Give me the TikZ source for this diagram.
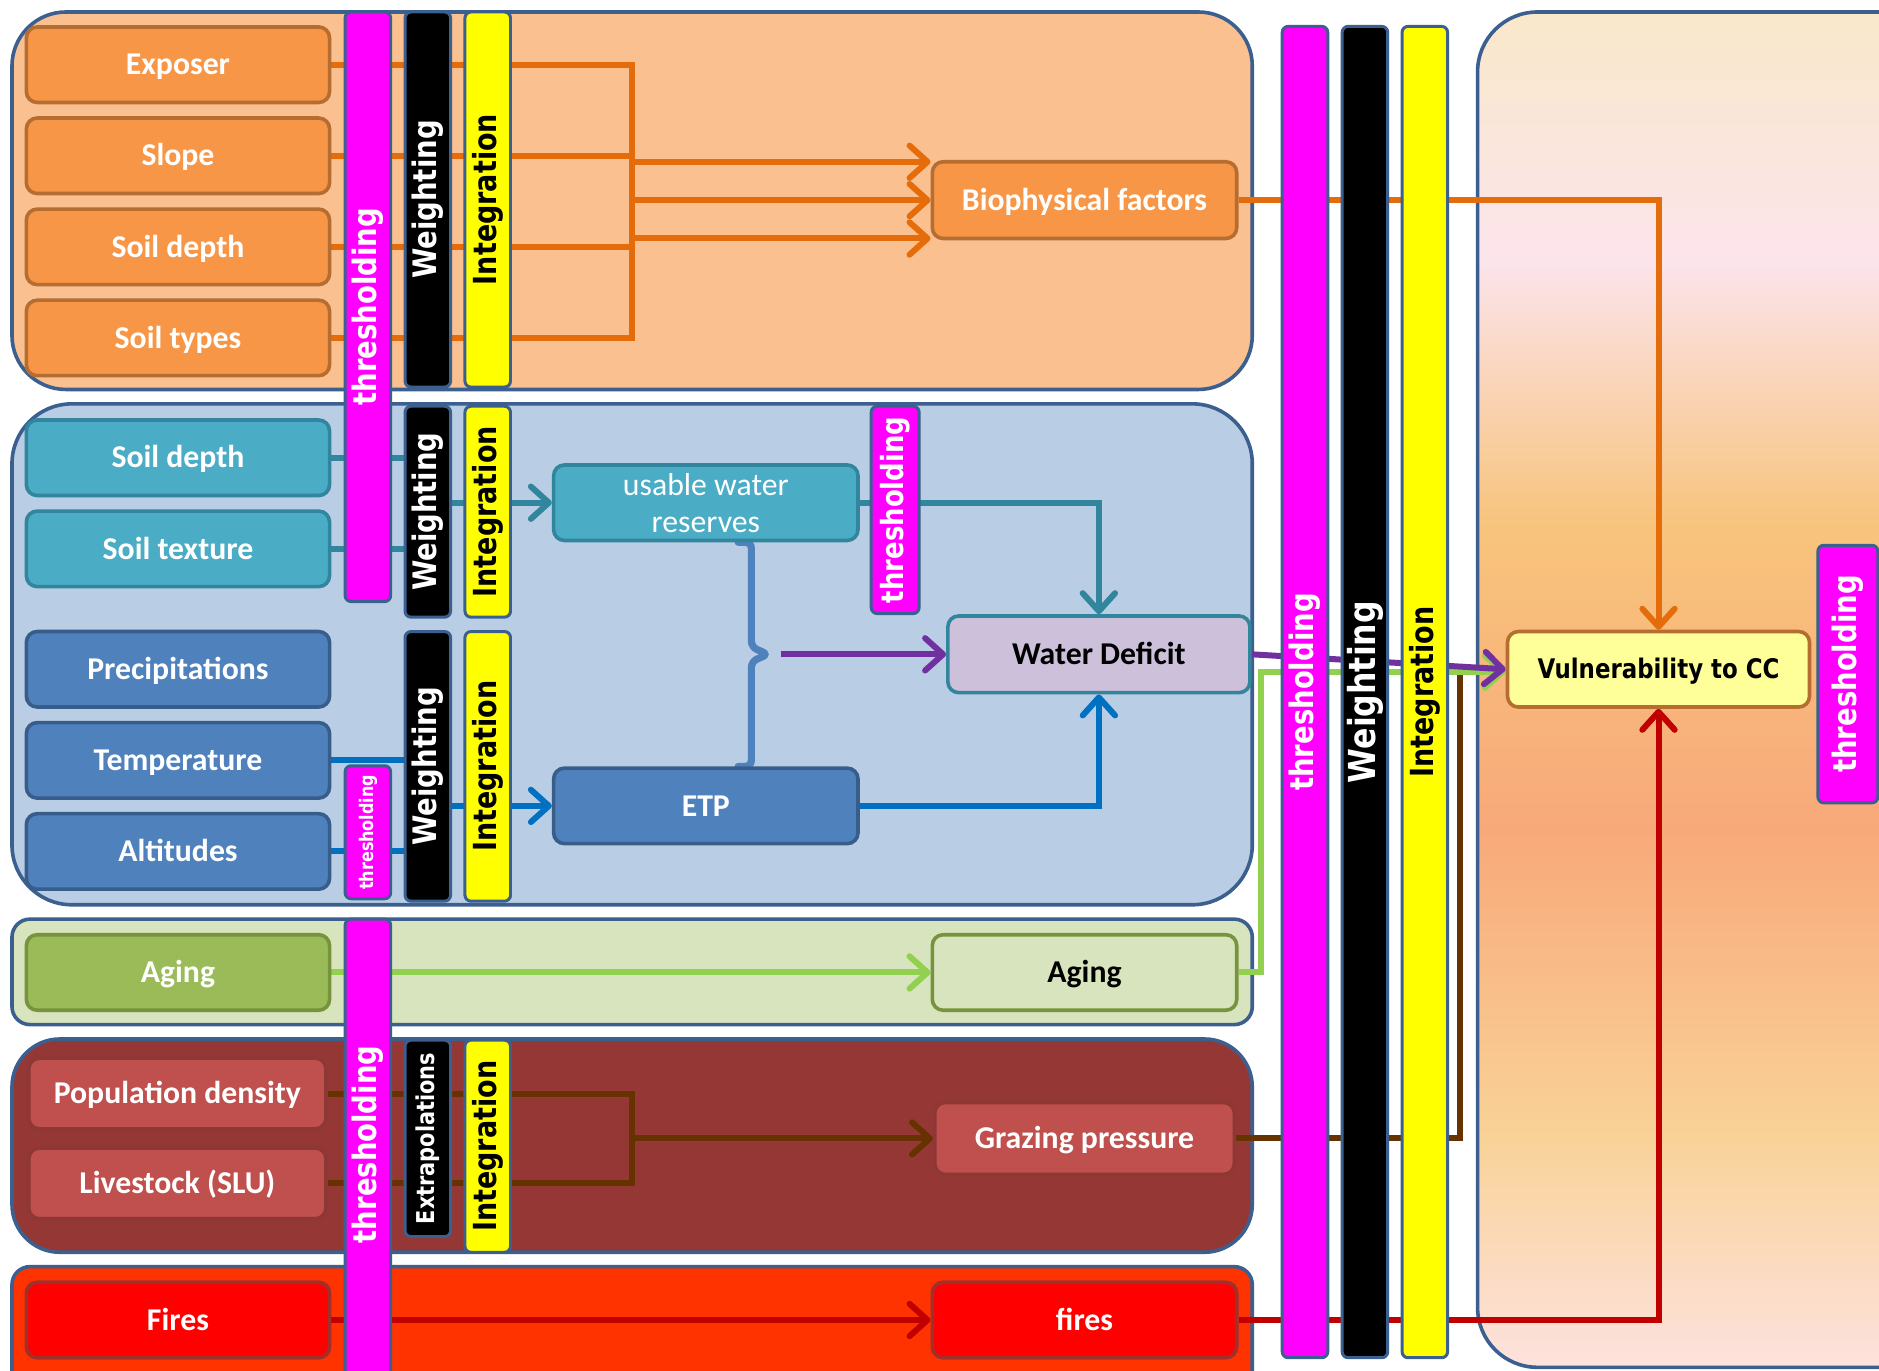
\documentclass[tikz,border=0pt]{standalone}
\usepackage{fontspec}
\setmainfont{Carlito}
\newfontfamily\barfont[FakeStretch=0.85]{DejaVu Sans}
\usetikzlibrary{arrows.meta,calc}
\definecolor{grpb}{HTML}{3B5F8F}
\definecolor{g1f}{HTML}{FAC090}
\definecolor{g2f}{HTML}{B9CDE5}
\definecolor{g3f}{HTML}{D7E4BD}
\definecolor{g4f}{HTML}{953735}
\definecolor{g5f}{HTML}{FF3300}
\definecolor{oboxf}{HTML}{F79646}
\definecolor{oboxd}{HTML}{B66D31}
\definecolor{olin}{HTML}{E46C0A}
\definecolor{tboxf}{HTML}{4BACC6}
\definecolor{tboxd}{HTML}{31859C}
\definecolor{dboxf}{HTML}{4F81BD}
\definecolor{dboxd}{HTML}{385D8A}
\definecolor{blin}{HTML}{0070C0}
\definecolor{wdf}{HTML}{CCC0DA}
\definecolor{agf}{HTML}{9BBB59}
\definecolor{agd}{HTML}{77933C}
\definecolor{glin}{HTML}{92D050}
\definecolor{rboxf}{HTML}{C0504D}
\definecolor{rboxd}{HTML}{8E3836}
\definecolor{brlin}{HTML}{663300}
\definecolor{fboxd}{HTML}{A0302C}
\definecolor{rlin}{HTML}{C00000}
\definecolor{plin}{HTML}{7030A0}
\definecolor{vulf}{HTML}{FFFF99}
\definecolor{magb}{HTML}{FF00FF}
\definecolor{yelb}{HTML}{FFFF00}
\definecolor{gr0}{HTML}{F9E8CA}
\definecolor{gr1}{HTML}{FCE4EC}
\definecolor{gr2}{HTML}{F9D3B4}
\definecolor{gr3}{HTML}{F8C47C}
\definecolor{gr4}{HTML}{F8A97A}
\definecolor{gr5}{HTML}{F9D298}
\definecolor{gr6}{HTML}{FDE2DF}
\pgfdeclarelayer{bg}
\pgfdeclarelayer{lines}
\pgfsetlayers{bg,lines,main}
\tikzset{
  grp/.style={draw=grpb, line width=3pt},
  bx/.style={draw, line width=3pt, rounded corners=9pt, minimum width=253pt, minimum height=63pt,
    inner sep=0pt, text height=20pt, text depth=3pt,
    font=\fontsize{26.5}{31}\selectfont\bfseries, text=white},
  obox/.style={bx, fill=oboxf, draw=oboxd},
  tbox/.style={bx, fill=tboxf, draw=tboxd},
  dbox/.style={bx, fill=dboxf, draw=dboxd},
  gbox/.style={bx, fill=agf, draw=agd},
  rbox/.style={bx, fill=rboxf, draw=rboxd},
  fbox/.style={bx, fill=red, draw=fboxd},
  bar/.style={draw=grpb, line width=2.5pt, rounded corners=5pt, minimum width=38pt, inner sep=0pt},
  bartxt/.style={rotate=90, inner sep=0pt, font=\barfont\bfseries\fontsize{#1}{#1}\selectfont},
  bartxt/.default=27,
  ln/.style={line width=5pt},
  arr/.style={-{Straight Barb[length=15pt,width=27pt,round]}}
}
\begin{document}
\begin{tikzpicture}[x=1pt,y=-1pt]
\useasboundingbox (0,0) rectangle (1568,1144);

\begin{pgfonlayer}{bg}
\fill[white] (0,0) rectangle (1568,1144);
\draw[grp, fill=g1f, rounded corners=45pt] (10,10) rectangle (1045,325);
\draw[grp, fill=g2f, rounded corners=50pt] (10,337) rectangle (1045,755);
\draw[grp, fill=g3f, rounded corners=15pt] (10,767) rectangle (1045,855);
\draw[grp, fill=g4f, rounded corners=40pt] (10,867) rectangle (1045,1045);
\draw[grp, fill=g5f, rounded corners=15pt] (10,1057) rectangle (1045,1180);
\begin{scope}
\clip[rounded corners=50pt] (1233,10) rectangle (1640,1141);
\shade[top color=gr0, bottom color=gr1] (1233,8) rectangle (1640,219);
\shade[top color=gr1, bottom color=gr2] (1233,219) rectangle (1640,328);
\shade[top color=gr2, bottom color=gr3] (1233,328) rectangle (1640,440);
\shade[top color=gr3, bottom color=gr4] (1233,440) rectangle (1640,693);
\shade[top color=gr4, bottom color=gr5] (1233,693) rectangle (1640,948);
\shade[top color=gr5, bottom color=gr6] (1233,948) rectangle (1640,1143);
\end{scope}
\draw[grp, rounded corners=50pt] (1233,10) rectangle (1640,1141);
\end{pgfonlayer}

% left input boxes
\node[obox] (ex) at (148.5,54) {Exposer};
\node[obox] (sl) at (148.5,130) {Slope};
\node[obox] (sd) at (148.5,206) {Soil depth};
\node[obox] (st) at (148.5,282) {Soil types};
\node[tbox] (sd2) at (148.5,382) {Soil depth};
\node[tbox] (tx) at (148.5,458) {Soil texture};
\node[dbox] (pr) at (148.5,558.5) {Precipitations};
\node[dbox] (tp) at (148.5,634.5) {Temperature};
\node[dbox] (al) at (148.5,710.5) {Altitudes};
\node[gbox] (ag1) at (148.5,811.5) {Aging};
\node[rbox, minimum width=248pt, minimum height=59pt] (pd) at (148,912.5) {Population density};
\node[rbox, minimum width=248pt, minimum height=59pt] (ls) at (148,987.5) {Livestock (SLU)};
\node[fbox] (fr1) at (148.5,1101.5) {Fires};

% intermediate boxes
\node[obox, minimum width=254pt, minimum height=64pt] (bio) at (905,167) {Biophysical factors};
\node[tbox, minimum width=254pt, align=center, text height=, text depth=,
  font=\fontsize{26.5}{31}\selectfont\mdseries] (uw) at (589,419.5) {usable water\\reserves};
\node[dbox, minimum width=254pt] (etp) at (589,672.5) {ETP};
\node[bx, fill=wdf, draw=tboxd, text=black, minimum width=252pt, minimum height=64pt] (wd) at (917,546) {Water Deficit};
\node[bx, fill=g3f, draw=agd, text=black, minimum width=254pt] (ag2) at (905,811.5) {Aging};
\node[rbox, minimum width=250pt, minimum height=60pt] (gp) at (905,950) {Grazing pressure};
\node[fbox, minimum width=254pt] (fr2) at (905,1101.5) {fires};
\node[bx, fill=vulf, draw=oboxd, text=black, minimum width=252pt, text height=20pt, text depth=4pt,
  font=\barfont\bfseries\fontsize{22.5}{24}\selectfont] (vul) at (1384,558.5) {Vulnerability to CC};

% processing bars
\node[bar, fill=magb, minimum height=492pt] (m1) at (307,256) {};
\node[bartxt, text=white] (m1t) at (m1) {thresholding};
\node[bar, fill=black, minimum height=313pt] (k1) at (357,166.5) {};
\node[bartxt, text=white] (k1t) at (k1) {Weighting};
\node[bar, fill=yelb, minimum height=313pt] (y1) at (407,166.5) {};
\node[bartxt=26.5, text=black] (y1t) at (y1) {Integration};

\node[bar, fill=black, minimum height=176pt] (k2) at (357,427) {};
\node[bartxt, text=white] (k2t) at (k2) {Weighting};
\node[bar, fill=yelb, minimum height=176pt] (y2) at (407,427) {};
\node[bartxt=26.5, text=black] (y2t) at (y2) {Integration};
\node[bar, fill=magb, minimum width=40pt, minimum height=173pt] (m2) at (747,425.5) {};
\node[bartxt=25.5, text=white] (m2t) at (m2) {thresholding};

\node[bar, fill=black, minimum height=225pt] (k3) at (357,639.5) {};
\node[bartxt, text=white] (k3t) at (k3) {Weighting};
\node[bar, fill=yelb, minimum height=225pt] (y3) at (407,639.5) {};
\node[bartxt=26.5, text=black] (y3t) at (y3) {Integration};
\node[bar, fill=magb, minimum height=111pt] (m3) at (307,694.5) {};
\node[bartxt=15.7, text=white] (m3t) at (m3) {thresholding};

\node[bar, fill=magb, minimum height=390pt] (m4) at (307,962) {};
\node[bartxt, text=white] (m4t) at ([yshift=7pt]m4.center) {thresholding};
\node[bar, fill=black, minimum height=164pt] (k4) at (357,950) {};
\node[bartxt=20.5, text=white] (k4t) at (k4) {Extrapolations};
\node[bar, fill=yelb, minimum height=177pt] (y4) at (407,956.5) {};
\node[bartxt=26.5, text=black] (y4t) at (y4) {Integration};

\node[bar, fill=magb, minimum height=1111pt] (bm) at (1089,577.5) {};
\node[bartxt, text=white] (bmt) at (bm) {thresholding};
\node[bar, fill=black, minimum height=1111pt] (bk) at (1139,577.5) {};
\node[bartxt=31, text=white] (bkt) at (bk) {Weighting};
\node[bar, fill=yelb, minimum height=1111pt] (by) at (1189,577.5) {};
\node[bartxt=26.5, text=black] (byt) at (by) {Integration};
\node[bar, fill=magb, minimum width=50pt, minimum height=215pt] (rm) at (1542,562.5) {};
\node[bartxt, text=white] (rmt) at (rm) {thresholding};

% connectors
\coordinate (bus1) at (527,0);
\coordinate (gx) at (1052,0);
\coordinate (bxc) at (1218,560.5);
\coordinate (brt) at ([xshift=27pt]uw.south);
\coordinate (brb) at ([xshift=27pt]etp.north);
\coordinate (btip) at ($(brt)!0.5!(brb)+(26,0)$);
\begin{pgfonlayer}{lines}
\begin{scope}[ln, olin]
\draw (ex.east) -- (ex.east -| bus1) -- (st.east -| bus1) -- (st.east);
\draw (sl.east) -- (sl.east -| bus1);
\draw (sd.east) -- (sd.east -| bus1);
\draw[arr] ([yshift=32pt]bio.west -| bus1) -- ([yshift=32pt]bio.west);
\draw[arr] (bio.west -| bus1) -- (bio.west);
\draw[arr] ([yshift=-32pt]bio.west -| bus1) -- ([yshift=-32pt]bio.west);
\draw[arr] (bio.east) -| (vul.north);
\end{scope}
\begin{scope}[ln, tboxd]
\draw (sd2.east) -- (sd2.east -| k2.west);
\draw (tx.east) -- (tx.east -| k2.west);
\draw[arr] (uw.west -| k2.east) -- (uw.west);
\draw[arr] (uw.east) -| (wd.north);
\end{scope}
\begin{scope}[ln, blin]
\draw (tp.east) -- (tp.east -| k3.west);
\draw (al.east) -- (al.east -| k3.west);
\draw[arr] (etp.west -| k3.east) -- (etp.west);
\draw[arr] (etp.east) -| (wd.south);
\end{scope}
\draw[dboxf, line width=6pt, rounded corners=5pt, line cap=round]
  (brt) -- ++(11,0) -- ($(brt)!0.5!(brb)+(11,-6)$) -- ($(brt)!0.5!(brb)+(25,0)$)
  -- ($(brt)!0.5!(brb)+(11,6)$) -- ($(brb)+(11,0)$) -- (brb);
\begin{scope}[ln, brlin]
\draw (pd.east) -- (pd.east -| bus1) -- (ls.east -| bus1) -- (ls.east);
\draw[arr] (gp.west -| bus1) -- (gp.west);
\draw (gp.east) -| (bxc);
\end{scope}
\begin{scope}[ln, glin]
\draw[arr] (ag1.east) -- (ag2.west);
\draw[arr] (ag2.east) -- (ag2.east -| gx) |- ([yshift=-2pt]vul.west);
\end{scope}
\begin{scope}[ln, plin]
\draw[arr] ([xshift=10pt]btip) -- (btip -| wd.west);
\draw[arr] (wd.east) -- (vul.west);
\end{scope}
\begin{scope}[ln, rlin]
\draw[arr] (fr1.east) -- (fr2.west);
\draw[arr] (fr2.east) -| (vul.south);
\end{scope}
\end{pgfonlayer}
\end{tikzpicture}
\end{document}
